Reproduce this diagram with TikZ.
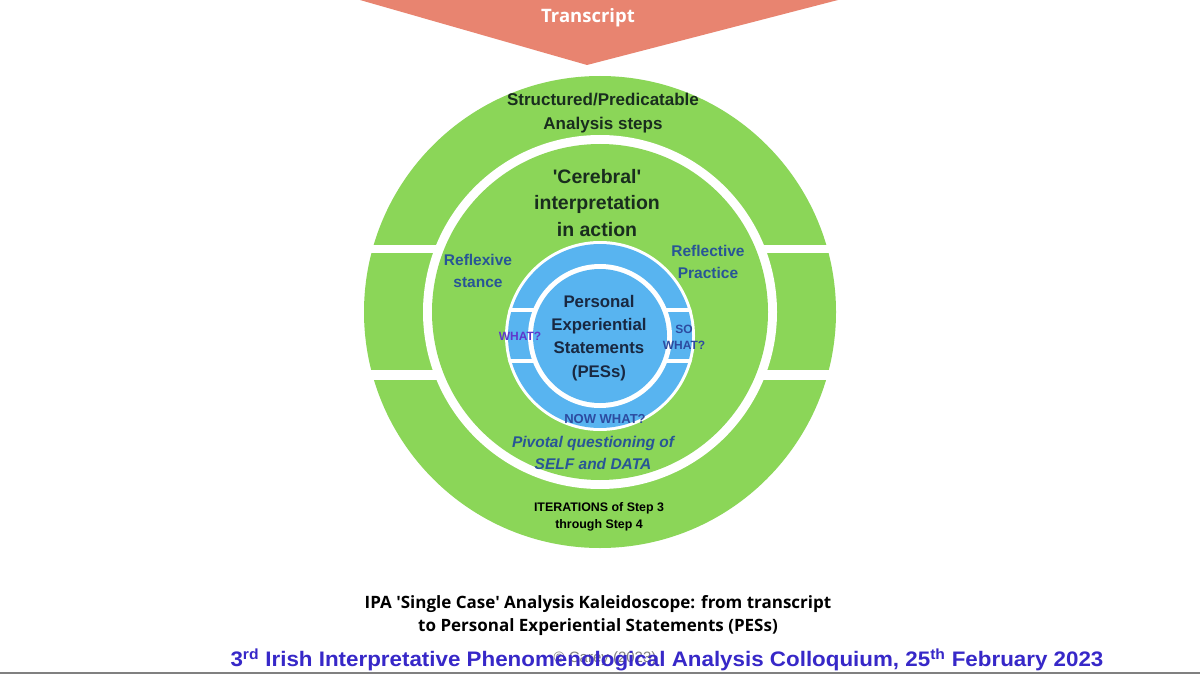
\documentclass[tikz,border=0pt]{standalone}
\usepackage{fontspec}
\setmainfont{Liberation Sans}
\newfontfamily\opensans{Open Sans}
\definecolor{salmon}{RGB}{232,132,112}
\definecolor{grn}{RGB}{139,214,88}
\definecolor{blu}{RGB}{88,180,240}
\definecolor{darktxt}{RGB}{25,45,30}
\definecolor{bluetxt}{RGB}{40,85,150}
\definecolor{navytxt}{RGB}{25,40,65}
\definecolor{purptxt}{RGB}{95,55,205}
\definecolor{qtxt}{RGB}{45,75,160}
\definecolor{titletxt}{RGB}{55,40,200}
\tikzset{
  lbl/.style={inner sep=0pt, align=center},
  fs/.style={font=\bfseries\fontsize{#1}{#1}\selectfont}
}
\begin{document}
\begin{tikzpicture}[x=1pt,y=-1pt]
\useasboundingbox (0,0) rectangle (1200,674);
\fill[white] (0,0) rectangle (1200,674);
% transcript arrow
\fill[salmon] (360,0) -- (838,0) -- (587,65) -- cycle;
\node[lbl, text=white, font=\opensans\bfseries\fontsize{18.5}{18.5}\selectfont] (transcript) at (588,18) {Transcript};
% outer ring
\fill[grn] (600,312) circle (236pt);
\fill[white] (355,245) rectangle (845,253);
\fill[white] (355,370) rectangle (845,380);
\fill[white] (600,312) circle (177pt);
\fill[grn] (600,312) circle (168pt);
% blue rings
\fill[white] (600,336) circle (95pt);
\fill[blu] (600,336) circle (92pt);
\begin{scope}
\clip (600,336) circle (95pt);
\fill[white] (495,308) rectangle (705,312);
\fill[white] (495,358.5) rectangle (705,362.5);
\end{scope}
\fill[white] (600,336) circle (72pt);
\fill[blu] (600,336) circle (67pt);
% texts
\node[lbl, fs=17, text=darktxt] (struct) at (603,113) {Structured/Predicatable\\[7pt]Analysis steps};
\node[lbl, fs=19.5, text=darktxt] (cereb) at (597,203) {\textquotesingle Cerebral\textquotesingle\\[7pt]interpretation\\[7pt]in action};
\node[lbl, fs=15.5, text=bluetxt] (reflex) at (478,271) {Reflexive\\[6pt]stance};
\node[lbl, fs=15.5, text=bluetxt] (reflect) at (708,262) {Reflective\\[6pt]Practice};
\node[lbl, fs=16.8, text=navytxt] (pes) at (599,338) {Personal\\[6.5pt]Experiential\\[6.5pt]Statements\\[6.5pt](PESs)};
\node[lbl, fs=12, text=purptxt] (what) at (520,336) {WHAT?};
\node[lbl, fs=12, text=qtxt] (sowhat) at (684,337) {SO\\[4pt]WHAT?};
\node[lbl, fs=13, text=qtxt] (nowwhat) at (605,419) {NOW WHAT?};
\node[lbl, font=\bfseries\itshape\fontsize{15.5}{15.5}\selectfont, text=bluetxt] (pivot) at (593,453) {Pivotal questioning of\\[6pt]SELF and DATA};
\node[lbl, fs=12.4, text=black] (iter) at (599,517) {ITERATIONS of Step 3\\[4.5pt]through Step 4};
% caption
\node[lbl, text=black, font=\opensans\bfseries\fontsize{17}{17}\selectfont] (cap1) at (598,604) {IPA 'Single Case' Analysis Kaleidoscope: from transcript};
\node[lbl, text=black, font=\opensans\bfseries\fontsize{17}{17}\selectfont] (cap2) at (598,627) {to Personal Experiential Statements (PESs)};
% footer
\node[lbl, text=gray, font=\fontsize{15}{15}\selectfont] (copy) at (605,659) {© Carey (2023)};
\node[lbl, text=titletxt, fs=21] (title) at (667,660) {\scalebox{1.065}[1]{3\textsuperscript{rd} Irish Interpretative Phenomenological Analysis Colloquium, 25\textsuperscript{th} February 2023}};
\draw[gray, line width=2pt] (0,672.5) -- (1200,672.5);
\end{tikzpicture}
\end{document}
